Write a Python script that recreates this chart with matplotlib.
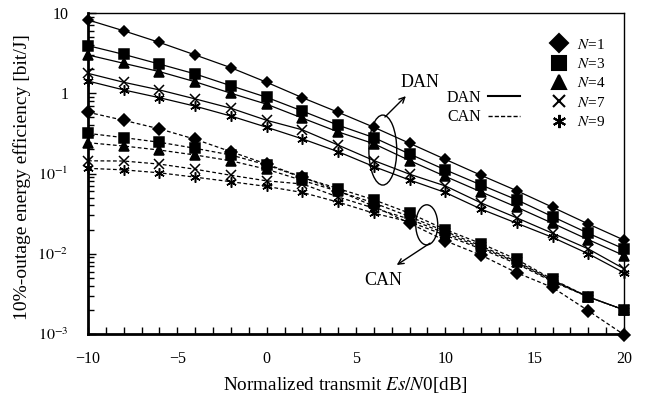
import matplotlib
matplotlib.use('Agg')
import matplotlib.pyplot as plt
from matplotlib.patches import Ellipse
from matplotlib.lines import Line2D
from matplotlib.ticker import MultipleLocator, LogLocator, FixedLocator, NullFormatter

plt.rcParams['font.family'] = ['Liberation Serif', 'DejaVu Serif']
plt.rcParams['mathtext.fontset'] = 'stix'

# ---- data ----
snr_db = [-10, -8, -6, -4, -2, 0, 2, 4, 6, 8, 10, 12, 14, 16, 18, 20]

dan_n1 = [8.2, 6.0, 4.3, 3.0, 2.08, 1.37, 0.88, 0.58, 0.377, 0.238, 0.15, 0.095, 0.061, 0.038, 0.0235, 0.0148]
dan_n3 = [3.92, 3.05, 2.31, 1.74, 1.24, 0.89, 0.60, 0.40, 0.28, 0.175, 0.111, 0.072, 0.047, 0.029, 0.018, 0.0115]
dan_n4 = [3.0, 2.36, 1.86, 1.39, 1.0, 0.73, 0.49, 0.33, 0.235, 0.145, 0.092, 0.059, 0.038, 0.024, 0.015, 0.0095]
dan_n7 = [1.77, 1.37, 1.10, 0.85, 0.65, 0.46, 0.35, 0.226, 0.145, 0.098, 0.070, 0.043, 0.028, 0.018, 0.0115, 0.0065]
dan_n9 = [1.42, 1.10, 0.88, 0.69, 0.52, 0.377, 0.27, 0.187, 0.122, 0.083, 0.058, 0.036, 0.024, 0.016, 0.010, 0.0058]

can_n1 = [0.58, 0.46, 0.36, 0.267, 0.187, 0.131, 0.09, 0.061, 0.039, 0.024, 0.0145, 0.0096, 0.0058, 0.0038, 0.00195, 0.00098]
can_n3 = [0.316, 0.28, 0.245, 0.206, 0.17, 0.128, 0.089, 0.065, 0.047, 0.032, 0.020, 0.0134, 0.0085, 0.0048, 0.0029, 0.002]
can_n4 = [0.242, 0.22, 0.196, 0.17, 0.144, 0.113, 0.082, 0.06, 0.043, 0.029, 0.019, 0.0125, 0.008, 0.0047, 0.0029, 0.002]
can_n7 = [0.144, 0.143, 0.131, 0.113, 0.095, 0.081, 0.074, 0.051, 0.037, 0.027, 0.018, 0.012, 0.0078, 0.0046, 0.0029, 0.002]
can_n9 = [0.116, 0.111, 0.102, 0.09, 0.079, 0.069, 0.058, 0.044, 0.032, 0.025, 0.017, 0.0115, 0.0075, 0.0045, 0.0029, 0.002]

n_labels = ['$\\mathit{N}$=1', '$\\mathit{N}$=3', '$\\mathit{N}$=4', '$\\mathit{N}$=7', '$\\mathit{N}$=9']
y_ticks = [1e-3, 1e-2, 1e-1, 1, 10]
y_tick_labels = ['$10^{-3}$', '$10^{-2}$', '$10^{-1}$', '1', '10']
x_ticks = [-10, -5, 0, 5, 10, 15, 20]
x_tick_labels = ['\u221210', '\u22125', '0', '5', '10', '15', '20']

# ---- styles ----
markers = ['D', 's', '^', 'x', (6, 2, 0)]
dan_ms = [5.5, 6.5, 6.5, 7, 7.5]
can_ms = [6.5, 7, 7, 7, 7.5]

fig = plt.figure(figsize=(6.5, 3.97), dpi=100)
ax = fig.add_axes([88 / 650, 1 - 334 / 397, 536 / 650, 321 / 397])

dan = [dan_n1, dan_n3, dan_n4, dan_n7, dan_n9]
can = [can_n1, can_n3, can_n4, can_n7, can_n9]

for vals, m, s in zip(dan, markers, dan_ms):
    ax.plot(snr_db, vals, '-', color='k', lw=0.9, marker=m, ms=s,
            mfc='k', mec='k', mew=1.1, clip_on=False, zorder=3)
for vals, m, s in zip(can, markers, can_ms):
    ax.plot(snr_db, vals, color='k', lw=0.9, ls=(0, (3, 2)), marker=m, ms=s,
            mfc='k', mec='k', mew=1.1, clip_on=False, zorder=3)

ax.set_yscale('log')
ax.set_xlim(-10, 20)
ax.set_ylim(1e-3, 10)

ax.xaxis.set_major_locator(FixedLocator(x_ticks))
ax.set_xticklabels(x_tick_labels)
ax.xaxis.set_minor_locator(MultipleLocator(1))
ax.yaxis.set_major_locator(FixedLocator(y_ticks))
ax.set_yticklabels(y_tick_labels)
ax.yaxis.set_minor_locator(LogLocator(base=10, subs=range(2, 10)))
ax.yaxis.set_minor_formatter(NullFormatter())

ax.tick_params(which='both', direction='in', top=False, right=False, width=1, labelsize=11.5)
ax.tick_params(axis='x', which='both', length=5, pad=12)
ax.tick_params(axis='y', which='major', length=6, pad=14)
ax.tick_params(axis='y', which='minor', length=4)

for sp in ['left', 'bottom']:
    ax.spines[sp].set_linewidth(2)
for sp in ['top', 'right']:
    ax.spines[sp].set_linewidth(1)

ax.set_xlabel('Normalized transmit $\\mathit{Es/N}$0[dB]', fontsize=13.8)
ax.xaxis.set_label_coords(0.48, -0.128)
ax.set_ylabel('10%-outage energy efficiency [bit/J]', fontsize=14)
ax.yaxis.set_label_coords(-0.106, 0.49)

# legend of N
handles = [Line2D([], [], ls='none', marker=m, ms=s, mfc='k', mec='k', mew=1.5, color='k')
           for m, s in zip(markers, [9.5, 10, 10, 8, 9.5])]
leg1 = fig.legend(handles, n_labels, loc='upper left', bbox_to_anchor=(542 / 650, 1 - 30 / 397),
                  frameon=False, fontsize=11, handlelength=1.2, handletextpad=0.6,
                  labelspacing=0.35, borderpad=0)

# legend of line styles
lh = [Line2D([], [], color='k', lw=1.5, ls='-'), Line2D([], [], color='k', lw=1, ls=(0, (3, 1.5)))]
leg2 = fig.legend(lh, ['DAN', 'CAN'], loc='upper left', bbox_to_anchor=(439 / 650, 1 - 82 / 397),
                  frameon=False, fontsize=11.5, handlelength=2.0, handletextpad=0.4,
                  labelspacing=0.2, markerfirst=False, borderpad=0)

# annotations
ax.add_patch(Ellipse((0.550, 0.573), 0.052, 0.218, transform=ax.transAxes,
                     fill=False, ec='k', lw=1, zorder=4))
ax.annotate('', xy=(0.593, 0.741), xytext=(0.554, 0.676), xycoords='axes fraction',
            arrowprops=dict(arrowstyle='->', color='k', lw=1, shrinkA=0, shrinkB=0))
ax.text(0.619, 0.785, 'DAN', transform=ax.transAxes, ha='center', va='center', fontsize=13)

ax.add_patch(Ellipse((0.632, 0.340), 0.041, 0.125, transform=ax.transAxes,
                     fill=False, ec='k', lw=1, zorder=4))
ax.annotate('', xy=(0.576, 0.215), xytext=(0.638, 0.283), xycoords='axes fraction',
            arrowprops=dict(arrowstyle='->', color='k', lw=1, shrinkA=0, shrinkB=0))
ax.text(0.550, 0.168, 'CAN', transform=ax.transAxes, ha='center', va='center', fontsize=13)

fig.savefig('out.png', dpi=100)
